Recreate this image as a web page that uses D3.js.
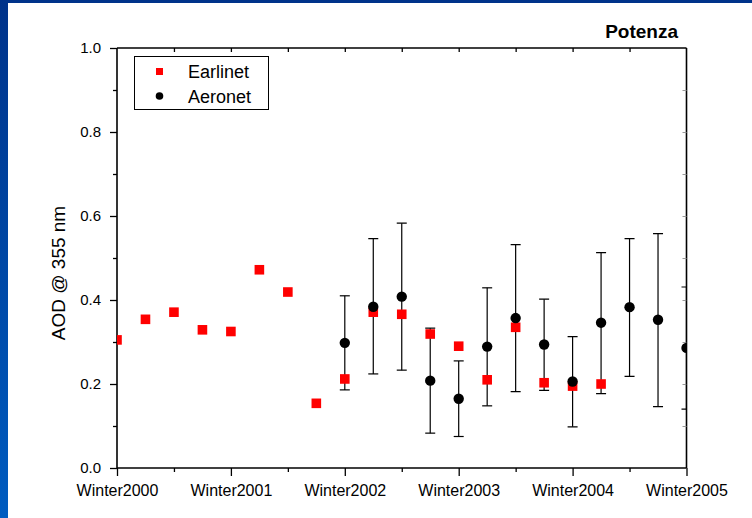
<!DOCTYPE html>
<html>
<head>
<meta charset="utf-8">
<script src="https://cdn.jsdelivr.net/npm/d3@7"></script>
<style>
	body { margin: 0; padding: 0; background: #fff; }
	svg { display: block; font-family: "Liberation Sans", Arial, sans-serif; }
</style>
</head>
<body>
<svg class="chart" width="752" height="518"></svg>
<script>
// season positions (years after Winter2000) and AOD values
var earlinetX = [0, 0.25, 0.5, 0.75, 1, 1.25, 1.5, 1.75, 2, 2.25, 2.5, 2.75, 3, 3.25, 3.5, 3.75, 4, 4.25];
var earlinetAOD = [0.305, 0.354, 0.371, 0.329, 0.325, 0.472, 0.419, 0.154, 0.212, 0.371, 0.366, 0.319, 0.290, 0.210, 0.335, 0.203, 0.195, 0.200];

var aeronetX = [2, 2.25, 2.5, 2.75, 3, 3.25, 3.5, 3.75, 4, 4.25, 4.5, 4.75, 5];
var aeronetAOD = [0.298, 0.384, 0.408, 0.208, 0.165, 0.289, 0.357, 0.294, 0.206, 0.346, 0.383, 0.353, 0.286];
var aeronetHigh = [0.410, 0.546, 0.583, 0.333, 0.255, 0.429, 0.532, 0.402, 0.313, 0.513, 0.546, 0.558, 0.431];
var aeronetLow = [0.186, 0.224, 0.233, 0.083, 0.075, 0.148, 0.182, 0.185, 0.098, 0.177, 0.218, 0.146, 0.140];

var xTickLabels = ["Winter2000", "Winter2001", "Winter2002", "Winter2003", "Winter2004", "Winter2005"];
var yTicks = [0, 0.2, 0.4, 0.6, 0.8, 1.0];

var svg = d3.select("svg.chart");

// slide background: blue strips on top and left
var grad = svg.append("defs").append("linearGradient")
	.attr("id", "blue").attr("x1", 0).attr("y1", 0).attr("x2", 0).attr("y2", 1);
grad.append("stop").attr("offset", "0%").attr("stop-color", "#00338a");
grad.append("stop").attr("offset", "100%").attr("stop-color", "#005cc0");
svg.append("rect").attr("x", 0).attr("y", 0).attr("width", 752).attr("height", 3).attr("fill", "#00338a");
svg.append("rect").attr("x", 0).attr("y", 0).attr("width", 8).attr("height", 518).attr("fill", "url(#blue)");

var pLeft = 117, pRight = 686.5, pTop = 48, pBottom = 468;

var x = d3.scaleLinear().domain([0, 5]).range([pLeft, pRight]);
var y = d3.scaleLinear().domain([0, 1]).range([pBottom, pTop]);

svg.append("clipPath").attr("id", "plot")
	.append("rect").attr("x", pLeft).attr("y", pTop)
	.attr("width", pRight - pLeft).attr("height", pBottom - pTop);

// axes
var xMinor = svg.append("g").attr("transform", "translate(0," + pBottom + ")")
	.call(d3.axisBottom(x).tickValues([0.5, 1.5, 2.5, 3.5, 4.5]).tickSize(4).tickFormat(""));
var xAxis = svg.append("g").attr("transform", "translate(0," + pBottom + ")")
	.call(d3.axisBottom(x).tickValues(d3.range(xTickLabels.length)).tickSize(8).tickPadding(9)
		.tickFormat(function(d, i) { return xTickLabels[i]; }));
xAxis.selectAll("text").style("font-size", "16px").attr("fill", "#000");

var yMinor = svg.append("g").attr("transform", "translate(" + pLeft + ",0)")
	.call(d3.axisLeft(y).tickValues([0.1, 0.3, 0.5, 0.7, 0.9]).tickSize(4).tickFormat(""));
var yAxis = svg.append("g").attr("transform", "translate(" + pLeft + ",0)")
	.call(d3.axisLeft(y).tickValues(yTicks).tickSize(7).tickPadding(9).tickFormat(d3.format(".1f")));
yAxis.selectAll("text").style("font-size", "15px").attr("fill", "#000");

var topAxis = svg.append("g").attr("transform", "translate(0," + pTop + ")")
	.call(d3.axisTop(x).tickValues([0.5, 1, 1.5, 2, 2.5, 3, 3.5, 4, 4.5]).tickSize(-4).tickFormat(""));
var rightAxis = svg.append("g").attr("transform", "translate(" + pRight + ",0)")
	.call(d3.axisRight(y).tickValues([0.1, 0.2, 0.3, 0.4, 0.5, 0.6, 0.7, 0.8, 0.9]).tickSize(-4).tickFormat(""));

svg.selectAll(".domain").attr("stroke", "#000").attr("stroke-width", 1.6);
svg.selectAll(".tick line").attr("stroke", "#000").attr("stroke-width", 1.3);
rightAxis.selectAll(".tick line").attr("stroke", "#999").attr("stroke-width", 1);
// Origin style: no end caps on domain
xMinor.select(".domain").remove();
yMinor.select(".domain").remove();
xAxis.select(".domain").attr("d", "M" + pLeft + ",0H" + pRight);
yAxis.select(".domain").attr("d", "M0," + pTop + "V" + pBottom);
topAxis.select(".domain").attr("d", "M" + pLeft + ",0H" + pRight);
rightAxis.select(".domain").attr("d", "M0," + pTop + "V" + pBottom);

// data
var plot = svg.append("g").attr("clip-path", "url(#plot)");

var aeronet = aeronetX.map(function(d, i) {
	return {x: d, v: aeronetAOD[i], hi: aeronetHigh[i], lo: aeronetLow[i]};
});
var earlinet = earlinetX.map(function(d, i) { return {x: d, v: earlinetAOD[i]}; });

var bars = plot.selectAll(".err").data(aeronet).enter().append("g").attr("class", "err")
	.attr("stroke", "#000").attr("stroke-width", 1.2);
bars.append("line")
	.attr("x1", function(d) { return x(d.x); }).attr("x2", function(d) { return x(d.x); })
	.attr("y1", function(d) { return y(d.hi); }).attr("y2", function(d) { return y(d.lo); });
bars.append("line")
	.attr("x1", function(d) { return x(d.x) - 5; }).attr("x2", function(d) { return x(d.x) + 5; })
	.attr("y1", function(d) { return y(d.hi); }).attr("y2", function(d) { return y(d.hi); });
bars.append("line")
	.attr("x1", function(d) { return x(d.x) - 5; }).attr("x2", function(d) { return x(d.x) + 5; })
	.attr("y1", function(d) { return y(d.lo); }).attr("y2", function(d) { return y(d.lo); });

plot.selectAll(".sq").data(earlinet).enter().append("rect").attr("class", "sq")
	.attr("x", function(d) { return x(d.x) - 4.8; })
	.attr("y", function(d) { return y(d.v) - 4.8; })
	.attr("width", 9.6).attr("height", 9.6)
	.attr("fill", "#ff0000");

plot.selectAll(".dot").data(aeronet).enter().append("circle").attr("class", "dot")
	.attr("cx", function(d) { return x(d.x); })
	.attr("cy", function(d) { return y(d.v); })
	.attr("r", 5.2)
	.attr("fill", "#000");

// legend
var legend = svg.append("g");
legend.append("rect").attr("x", 134.5).attr("y", 56.5).attr("width", 134).attr("height", 53)
	.attr("fill", "#fff").attr("stroke", "#000").attr("stroke-width", 1);
legend.append("rect").attr("x", 156).attr("y", 68).attr("width", 7).attr("height", 7).attr("fill", "#ff0000");
legend.append("circle").attr("cx", 159.5).attr("cy", 96).attr("r", 3.8).attr("fill", "#000");
legend.append("text").attr("x", 188).attr("y", 78).style("font-size", "18px").text("Earlinet");
legend.append("text").attr("x", 188).attr("y", 103).style("font-size", "18px").text("Aeronet");

// titles
svg.append("text")
	.attr("transform", "translate(65," + 273 + ") rotate(-90)")
	.attr("text-anchor", "middle")
	.style("font-size", "19px")
	.text("AOD @ 355 nm");

svg.append("text")
	.attr("x", 678).attr("y", 38)
	.attr("text-anchor", "end")
	.style("font-size", "19px").style("font-weight", "bold")
	.text("Potenza");
</script>
</body>
</html>
